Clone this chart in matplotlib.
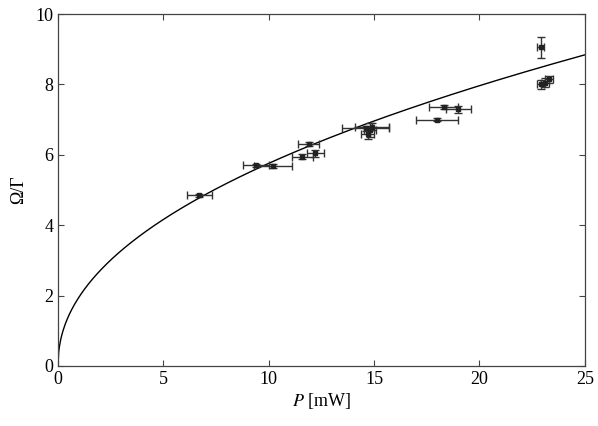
import numpy as np
import matplotlib
matplotlib.use("Agg")
import matplotlib.pyplot as plt

plt.rcParams['font.family'] = ['Liberation Serif', 'DejaVu Serif']
plt.rcParams['mathtext.fontset'] = 'stix'

P = [6.7, 9.4, 10.2, 11.6, 11.9, 12.2, 14.6, 14.7, 14.8, 14.9, 18.0, 18.3, 19.0, 22.9, 22.9, 23.1, 23.3]
omega = [4.85, 5.7, 5.68, 5.95, 6.3, 6.05, 6.75, 6.6, 6.7, 6.8, 7.0, 7.35, 7.3, 9.05, 8.0, 8.05, 8.15]
P_err = [0.6, 0.6, 0.9, 0.5, 0.5, 0.4, 1.1, 0.3, 0.3, 0.8, 1.0, 0.7, 0.6, 0.15, 0.15, 0.2, 0.2]
omega_err = [0.05, 0.05, 0.05, 0.06, 0.06, 0.1, 0.08, 0.15, 0.2, 0.1, 0.05, 0.06, 0.1, 0.3, 0.12, 0.12, 0.1]
fit_a = 1.96
fit_b = 0.468

fig = plt.figure(figsize=(5.98, 4.26), dpi=100)
ax = fig.add_axes([0.097, 0.141, 0.881, 0.826])

pp = np.linspace(0, 25, 800)
ax.plot(pp, fit_a * pp ** fit_b, color='black', lw=1.0)
ax.errorbar(P, omega, xerr=P_err, yerr=omega_err, fmt='s', ms=3, color='#222222',
            ecolor='#333333', elinewidth=1.0, capsize=3, capthick=1.0, mfc='#222222')

ax.set_xlim(0, 25)
ax.set_ylim(0, 10)
ax.set_xticks([0, 5, 10, 15, 20, 25])
ax.set_yticks([0, 2, 4, 6, 8, 10])
ax.tick_params(direction='in', top=True, right=True, labelsize=13, length=4, width=0.8,
               color='#444444')
for s in ax.spines.values():
    s.set_linewidth(0.9)
    s.set_color('#444444')
ax.set_xlabel(r'$\it{P}$ [mW]', fontsize=13, labelpad=2)
ax.set_ylabel('Ω/Γ', fontsize=13, labelpad=6)

fig.savefig('out.png', dpi=100)
